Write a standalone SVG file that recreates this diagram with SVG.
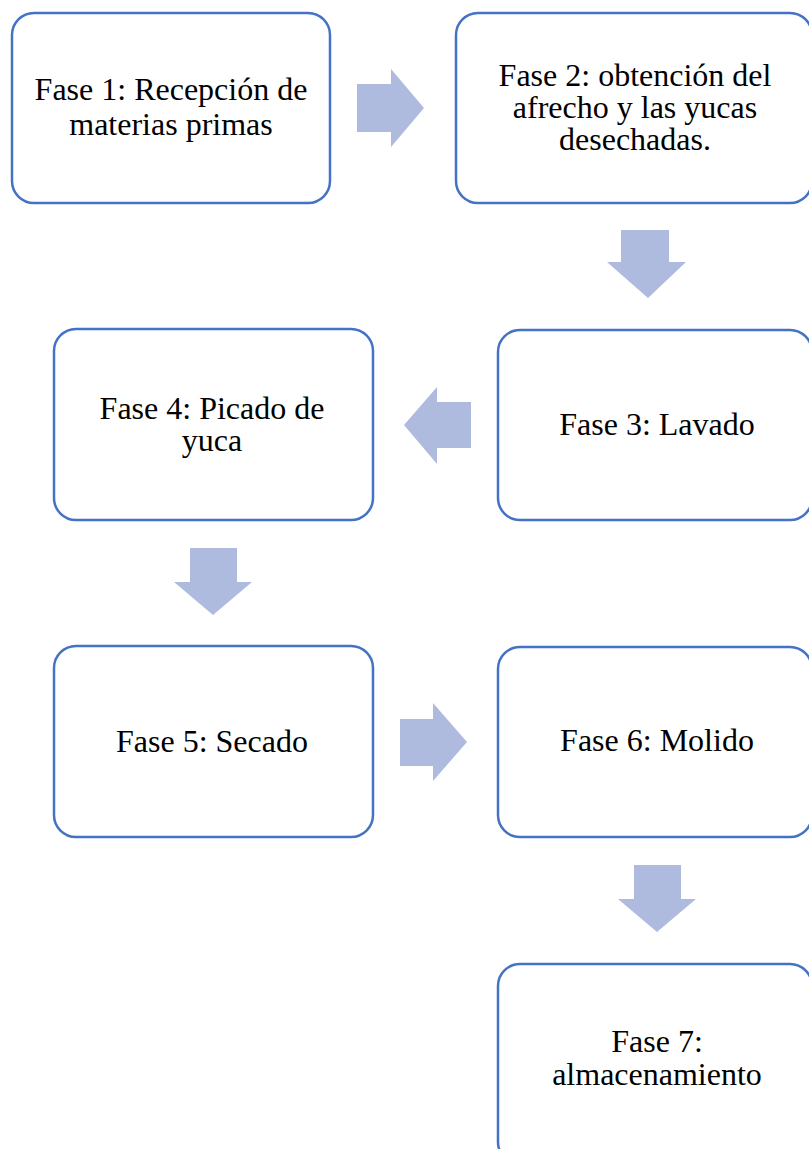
<svg xmlns="http://www.w3.org/2000/svg" width="809" height="1149" viewBox="0 0 809 1149">
<style>
.box{fill:#ffffff;stroke:#4472C4;stroke-width:2.5}
.arr{fill:#AEBBDF;stroke:none}
.t{font-family:'Liberation Serif','DejaVu Serif',serif;font-size:32px;fill:#000;text-anchor:middle}
</style>
<rect width="809" height="1149" fill="#ffffff"/>
<g id="connectors">
<polygon class="arr" points="357,84 391,84 391,69 424,108 391,147 391,132 357,132"/>
<polygon class="arr" points="621,230 669,230 669,262 686,262 648,298 607,262 621,262"/>
<polygon class="arr" points="471,402 437,402 437,387 404,425 437,464 437,448 471,448"/>
<polygon class="arr" points="190,548 237,548 237,582 252,582 213,615 174,582 190,582"/>
<polygon class="arr" points="400,719 433,719 433,703 467,742 433,781 433,766 400,766"/>
<polygon class="arr" points="634,865 681,865 681,899 696,899 657,932 618,899 634,899"/>
</g>
<g id="node1">
<rect class="box" x="12" y="13" width="318" height="190" rx="22"/>
<text class="t" x="171" y="100">Fase 1: Recepción de</text>
<text class="t" x="171" y="135">materias primas</text>
</g>
<g id="node2">
<rect class="box" x="456" y="13" width="356" height="190" rx="22"/>
<text class="t" x="635" y="86">Fase 2: obtención del</text>
<text class="t" x="635" y="118">afrecho y las yucas</text>
<text class="t" x="635" y="150">desechadas.</text>
</g>
<g id="node3">
<rect class="box" x="498" y="330" width="314" height="190" rx="22"/>
<text class="t" x="657" y="435">Fase 3: Lavado</text>
</g>
<g id="node4">
<rect class="box" x="54" y="329" width="319" height="191" rx="22"/>
<text class="t" x="212" y="419">Fase 4: Picado de</text>
<text class="t" x="212" y="451">yuca</text>
</g>
<g id="node5">
<rect class="box" x="54" y="646" width="319" height="191" rx="22"/>
<text class="t" x="212" y="752">Fase 5: Secado</text>
</g>
<g id="node6">
<rect class="box" x="498" y="647" width="314" height="190" rx="22"/>
<text class="t" x="657" y="751">Fase 6: Molido</text>
</g>
<g id="node7">
<rect class="box" x="498" y="964" width="314" height="200" rx="22"/>
<text class="t" x="657" y="1052">Fase 7:</text>
<text class="t" x="657" y="1085">almacenamiento</text>
</g>
</svg>
